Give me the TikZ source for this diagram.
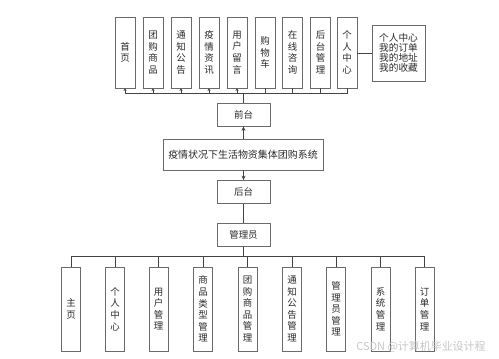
\documentclass[tikz,border=0pt]{standalone}
\usepackage{fontspec}
\newfontfamily\cjk{Noto Sans CJK SC}
\usetikzlibrary{arrows.meta}
\definecolor{boxc}{HTML}{6A6A6A}
\definecolor{linec}{HTML}{444444}
\definecolor{txt}{HTML}{2A2A2A}
\begin{document}
\begin{tikzpicture}[x=1bp,y=-1bp,
  box/.style={draw=boxc, line width=0.8bp, inner sep=0pt, text=txt,
    font=\cjk\fontsize{9.5}{11.6}\selectfont, align=center},
  topbox/.style={box, minimum width=20bp, minimum height=71bp},
  botbox/.style={box, minimum width=19bp, minimum height=84bp},
  midbox/.style={box, minimum width=53bp, minimum height=23bp},
  conn/.style={draw=linec, line width=0.8bp},
  arr/.style={conn, -{Stealth[length=4.5bp,width=4bp]}},
  tiny/.style={conn, -{Stealth[length=2.5bp,width=3bp]}}
]
\useasboundingbox (0,0) rectangle (499,358);
\fill[white] (0,0) rectangle (499,358);

% top row
\node[topbox] (t1) at (125,52.5) {首\\页};
\node[topbox] (t2) at (153,52.5) {团\\购\\商\\品};
\node[topbox] (t3) at (181,52.5) {通\\知\\公\\告};
\node[topbox] (t4) at (209,52.5) {疫\\情\\资\\讯};
\node[topbox] (t5) at (237,52.5) {用\\户\\留\\言};
\node[topbox] (t6) at (265,52.5) {购\\物\\车};
\node[topbox] (t7) at (292.5,52.5) {在\\线\\咨\\询};
\node[topbox] (t8) at (320.5,52.5) {后\\台\\管\\理};
\node[topbox] (t9) at (347,52.5) {个\\人\\中\\心};
\node[box, minimum width=53bp, minimum height=56bp,
  font=\cjk\fontsize{9.7}{10.2}\selectfont] (pc) at (398.5,53)
  {个人中心\\我的订单\\我的地址\\我的收藏};
\draw[conn] (t9.east |- pc.west) -- (pc.west);

% middle column
\node[midbox] (qt) at (243.5,114.5) {前台};
\node[box, minimum width=160bp, minimum height=31bp,
  font=\cjk\fontsize{10}{12}\selectfont] (sys) at (243,154.5) {疫情状况下生活物资集体团购系统};
\node[midbox] (ht) at (243.5,192) {后台};
\node[midbox] (gl) at (243.5,235) {管理员};

\coordinate (tb) at (243,93.5);
\draw[conn] (qt.north -| tb) -- (tb);
\draw[conn] (t1.south |- tb) -- (t9.south |- tb);
\foreach \n in {t1,t2,t3,t4,t5} \draw[tiny] (\n.south |- tb) -- (\n.south);
\foreach \n in {t6,t7,t8,t9} \draw[conn] (\n.south |- tb) -- (\n.south);

\draw[arr] (sys.north -| qt) -- (qt.south);
\draw[arr] (sys.south -| ht) -- (ht.north);
\draw[conn] (ht.south) -- (gl.north);

% bottom row
\node[botbox] (b1) at (71,309) {主\\页};
\node[botbox] (b2) at (115,309) {个\\人\\中\\心};
\node[botbox] (b3) at (158.5,309) {用\\户\\管\\理};
\node[botbox] (b4) at (203,309) {商\\品\\类\\型\\管\\理};
\node[botbox] (b5) at (247.5,309) {团\\购\\商\\品\\管\\理};
\node[botbox] (b6) at (292,309) {通\\知\\公\\告\\管\\理};
\node[botbox] (b7) at (336,309) {管\\理\\员\\管\\理};
\node[botbox] (b8) at (380.5,309) {系\\统\\管\\理};
\node[botbox] (b9) at (424.5,309) {订\\单\\管\\理};

\coordinate (bb) at (243,256);
\draw[conn] (gl.south -| bb) -- (bb);
\draw[conn] (b1.north |- bb) -- (b9.north |- bb);
\foreach \n in {b1,b2,b3,b4,b5,b6,b7,b8,b9} \draw[conn] (\n.north |- bb) -- (\n.north);

\node[text=black!22, font=\cjk\fontsize{11}{12}\selectfont, inner sep=0pt] (wm) at (421,347) {CSDN @计算机毕业设计程};
\end{tikzpicture}
\end{document}
